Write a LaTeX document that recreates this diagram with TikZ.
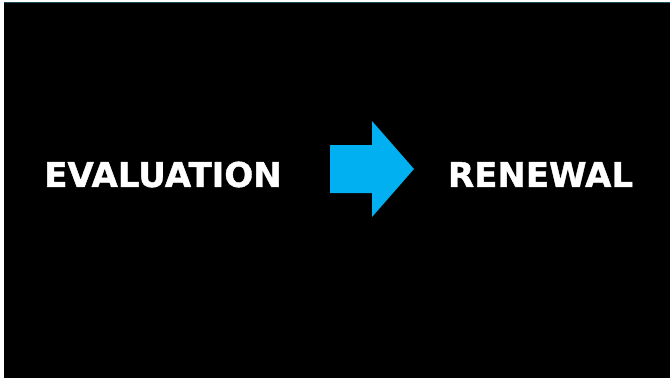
\documentclass[tikz,border=0pt]{standalone}
\usepackage{fontspec}
\setmainfont{DejaVu Sans}
\newfontfamily\heavyfont[FakeBold=1.2]{DejaVu Sans Bold}
\definecolor{arrowblue}{HTML}{00B0F0}
\definecolor{edgeteal}{HTML}{1E4D5C}
\begin{document}
\begin{tikzpicture}[x=1pt,y=-1pt,
  label/.style={text=white,font=\heavyfont\fontsize{34}{40}\selectfont,inner sep=0pt,anchor=center}]
\useasboundingbox (0,0) rectangle (670,378);
\fill[white] (0,0) rectangle (670,378);
\fill[black] (4,2) rectangle (670,378);
\draw[edgeteal,line width=0.8pt] (4,2.4) -- (670,2.4);
\node[label] (eval) at (163,174.5) {EVALUATION};
\node[label] (renew) at (540.5,174.5) {RENEWAL};
\fill[arrowblue] (330,145) -- (372,145) -- (372,121) -- (414,169) -- (372,217) -- (372,193) -- (330,193) -- cycle;
\end{tikzpicture}
\end{document}
